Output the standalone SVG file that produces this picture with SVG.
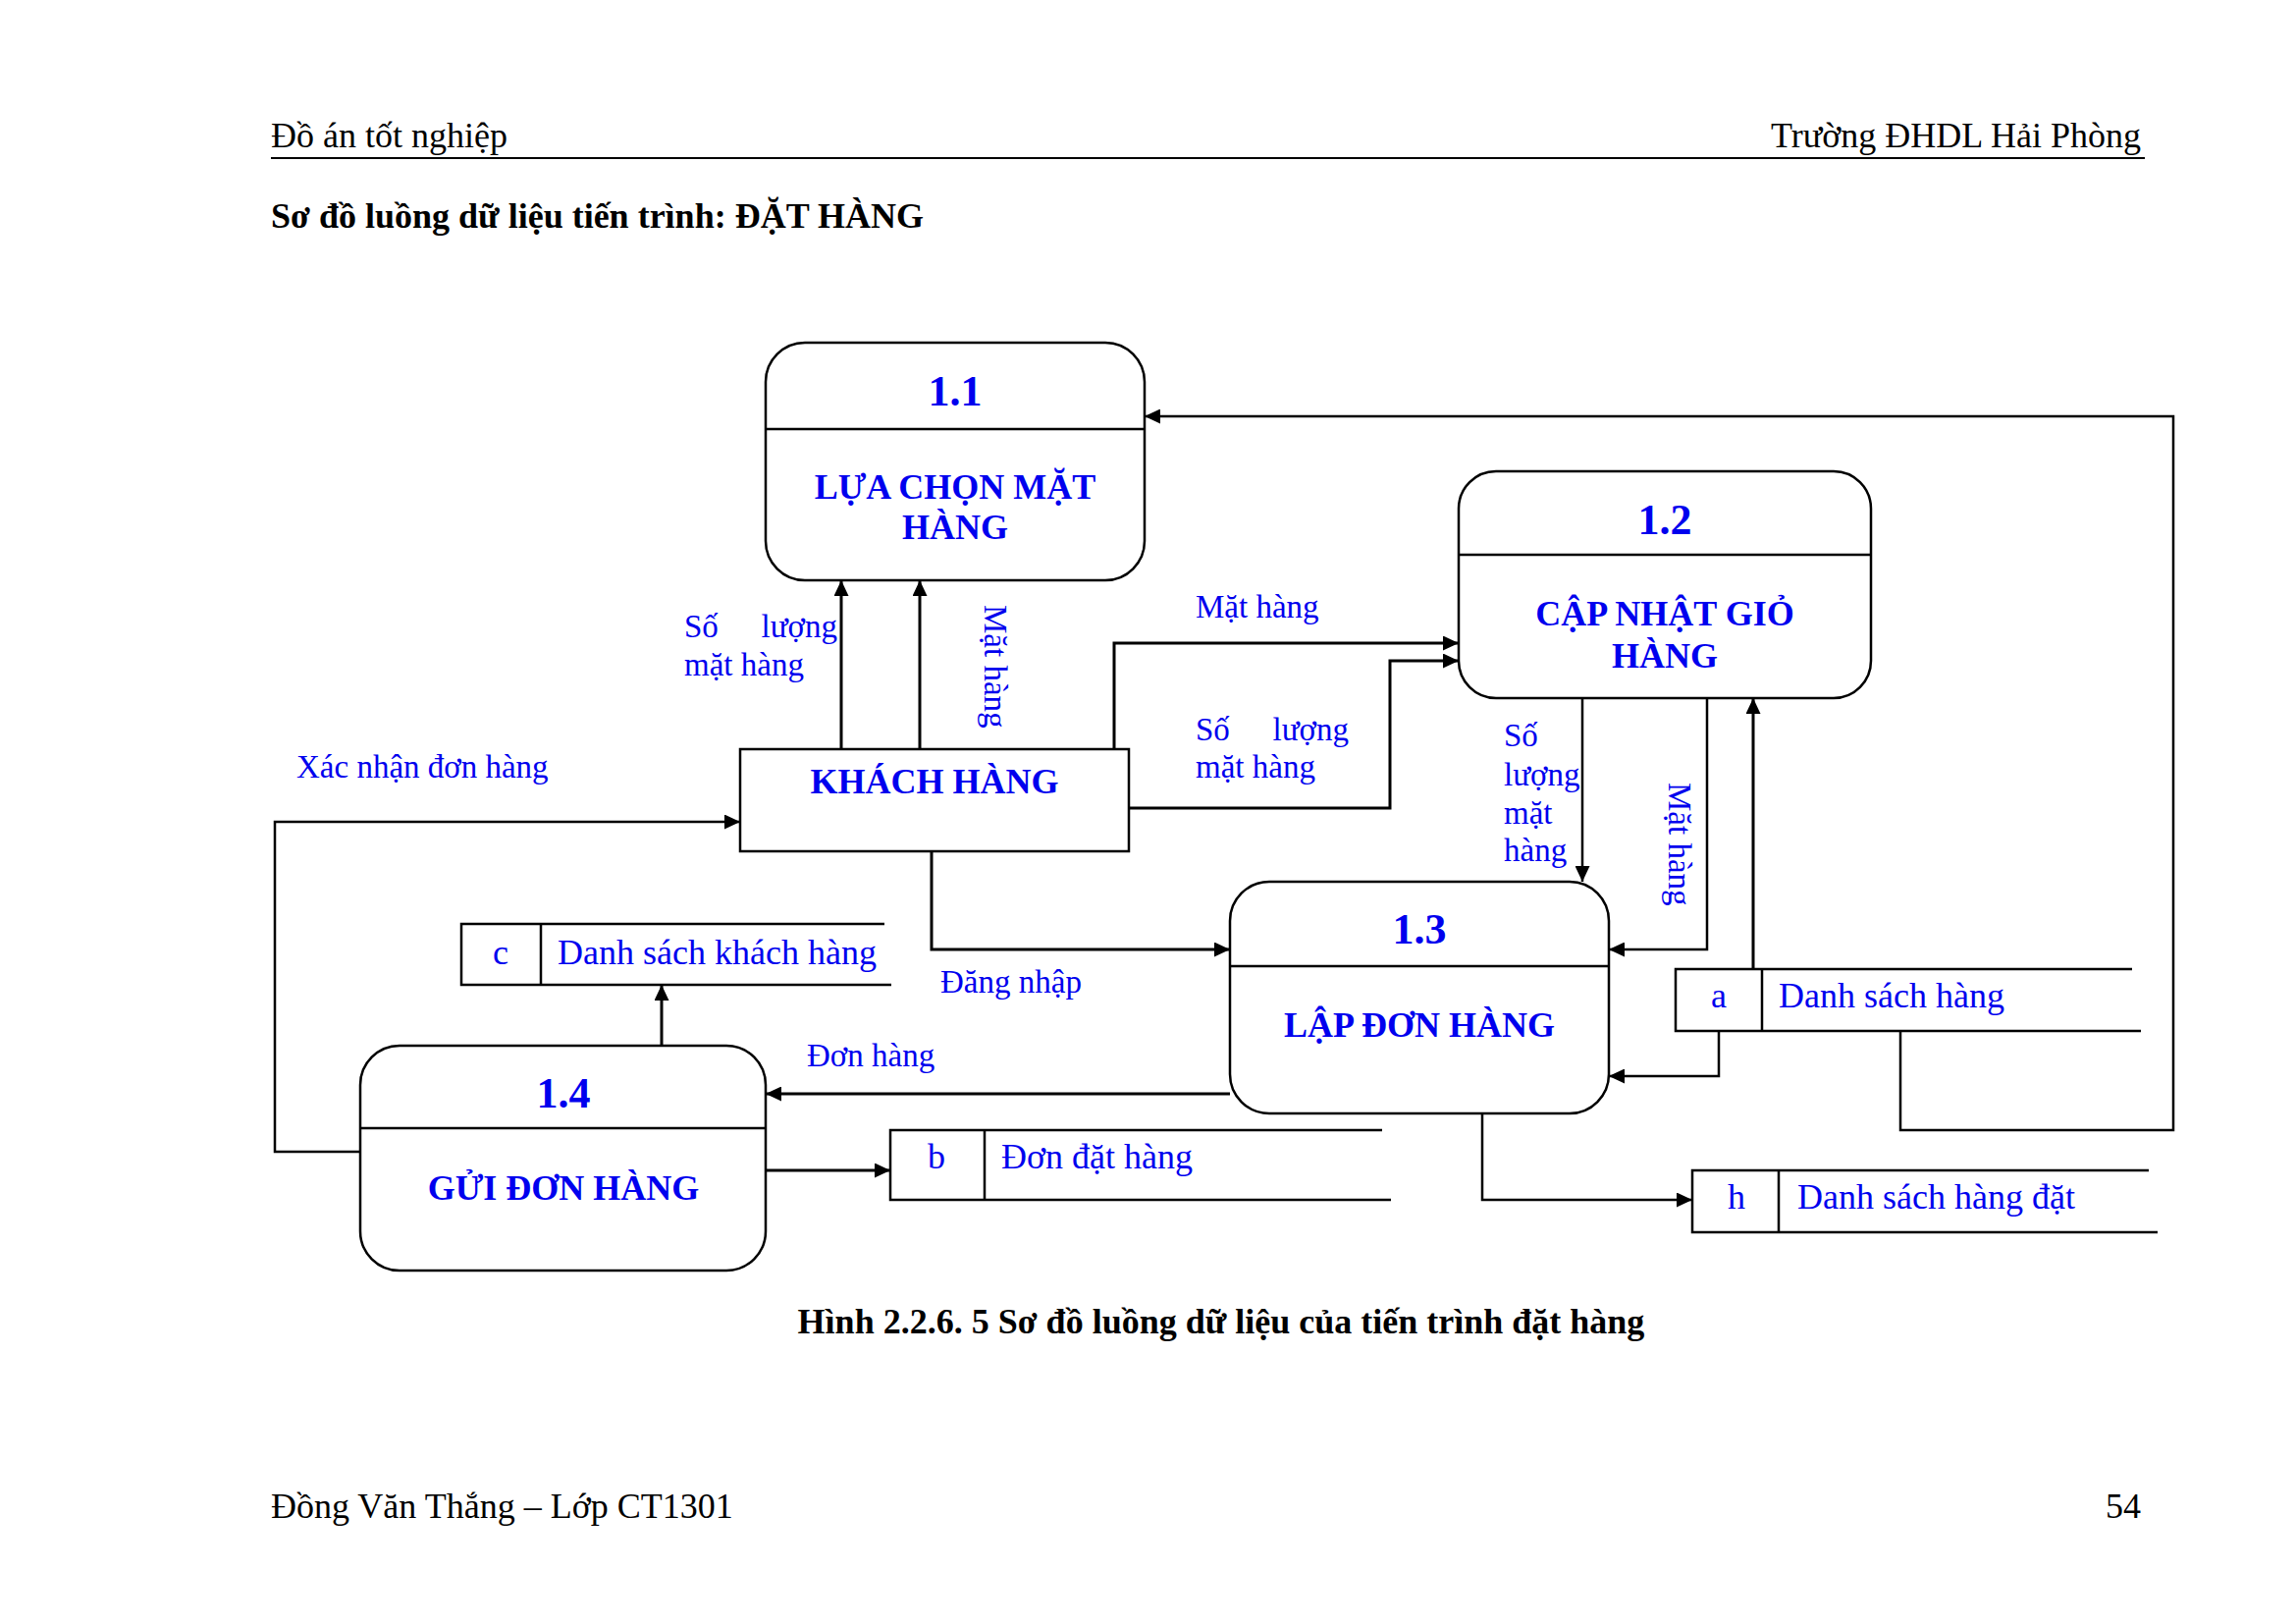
<svg xmlns="http://www.w3.org/2000/svg" width="2339" height="1654" viewBox="0 0 2339 1654">
<style>
text{font-family:"Liberation Serif","Times New Roman",serif}
.hd{font-size:36px;fill:#000}
.ttl{font-size:36px;font-weight:bold;fill:#000}
.num{font-size:44px;font-weight:bold;fill:#0000ee;text-anchor:middle}
.nl{font-size:36px;font-weight:bold;fill:#0000ee;text-anchor:middle}
.lb{font-size:33px;fill:#0000ee}
.st{font-size:36px;fill:#0000ee}
.box{fill:#fff;stroke:#000;stroke-width:2.5}
.ln{fill:none;stroke:#000;stroke-width:2.5}
.cn{fill:none;stroke:#000;stroke-width:3;marker-end:url(#ah)}
</style>
<defs>
<marker id="ah" viewBox="0 0 16 15" refX="16" refY="7.5" markerWidth="16" markerHeight="15" orient="auto" markerUnits="userSpaceOnUse"><path d="M0,0 L16,7.5 L0,15 z" fill="#000"/></marker>
</defs>
<rect width="2339" height="1654" fill="#fff"/>
<g id="header">
<text class="hd" x="276" y="150">Đồ án tốt nghiệp</text>
<text class="hd" x="2181" y="150" text-anchor="end">Trường ĐHDL Hải Phòng</text>
<line x1="276" y1="161" x2="2185" y2="161" stroke="#000" stroke-width="2"/>
<text class="ttl" x="276" y="232">Sơ đồ luồng dữ liệu tiến trình: ĐẶT HÀNG</text>
</g>
<g id="connectors">
<path class="cn" d="M857,763 V591"/>
<path class="cn" d="M937,763 V591"/>
<path class="cn" d="M1135,763 V655 H1486"/>
<path class="cn" d="M1150,823 H1416 V673 H1486"/>
<path class="cn" d="M949,867 V967 H1253"/>
<path class="cn" d="M1612,711 V898" style="stroke-width:2.5"/>
<path class="cn" d="M1739,711 V967 H1639" style="stroke-width:2.5"/>
<path class="cn" d="M1786,987 V711"/>
<path class="cn" d="M1751,1050 V1096 H1639" style="stroke-width:2.5"/>
<path class="cn" d="M1936,1050 V1151 H2214 V424 H1166" style="stroke-width:2.5"/>
<path class="cn" d="M1510,1134 V1222 H1724" style="stroke-width:2.5"/>
<path class="cn" d="M1253,1114 H780"/>
<path class="cn" d="M674,1065 V1003"/>
<path class="cn" d="M780,1192 H907"/>
<path class="cn" d="M367,1173 H280 V837 H754" style="stroke-width:2.5"/>
</g>
<g id="labels">
<text class="lb" x="697" y="649">Số</text>
<text class="lb" x="853" y="649" text-anchor="end">lượng</text>
<text class="lb" x="697" y="688">mặt hàng</text>
<text class="lb" transform="translate(1003,616) rotate(90)">Mặt hàng</text>
<text class="lb" x="1218" y="629">Mặt hàng</text>
<text class="lb" x="1218" y="754">Số</text>
<text class="lb" x="1374" y="754" text-anchor="end">lượng</text>
<text class="lb" x="1218" y="792">mặt hàng</text>
<text class="lb" x="1532" y="760">Số</text>
<text class="lb" x="1532" y="800">lượng</text>
<text class="lb" x="1532" y="839">mặt</text>
<text class="lb" x="1532" y="877">hàng</text>
<text class="lb" transform="translate(1700,797) rotate(90)">Mặt hàng</text>
<text class="lb" x="958" y="1011">Đăng nhập</text>
<text class="lb" x="822" y="1086">Đơn hàng</text>
<text class="lb" x="302" y="792">Xác nhận đơn hàng</text>
</g>
<g id="p11">
<rect class="box" x="780" y="349" width="386" height="242" rx="40"/>
<line class="ln" x1="780" y1="437" x2="1166" y2="437"/>
<text class="num" x="973" y="413">1.1</text>
<text class="nl" x="973" y="508">LỰA CHỌN MẶT</text>
<text class="nl" x="973" y="549">HÀNG</text>
</g>
<g id="p12">
<rect class="box" x="1486" y="480" width="420" height="231" rx="38"/>
<line class="ln" x1="1486" y1="565" x2="1906" y2="565"/>
<text class="num" x="1696" y="544">1.2</text>
<text class="nl" x="1696" y="637">CẬP NHẬT GIỎ</text>
<text class="nl" x="1696" y="680">HÀNG</text>
</g>
<g id="p13">
<rect class="box" x="1253" y="898" width="386" height="236" rx="40"/>
<line class="ln" x1="1253" y1="984" x2="1639" y2="984"/>
<text class="num" x="1446" y="961">1.3</text>
<text class="nl" x="1446" y="1056">LẬP ĐƠN HÀNG</text>
</g>
<g id="p14">
<rect class="box" x="367" y="1065" width="413" height="229" rx="40"/>
<line class="ln" x1="367" y1="1149" x2="780" y2="1149"/>
<text class="num" x="574" y="1128">1.4</text>
<text class="nl" x="574" y="1222">GỬI ĐƠN HÀNG</text>
</g>
<g id="khachhang">
<rect class="box" x="754" y="763" width="396" height="104"/>
<text class="nl" x="952" y="808">KHÁCH HÀNG</text>
</g>
<g id="store-a">
<path class="ln" d="M2172,987 H1707 V1050 H2181 M1795,987 V1050"/>
<text class="st" x="1751" y="1026" text-anchor="middle">a</text>
<text class="st" x="1812" y="1026">Danh sách hàng</text>
</g>
<g id="store-b">
<path class="ln" d="M1408,1151 H907 V1222 H1417 M1003,1151 V1222"/>
<text class="st" x="954" y="1190" text-anchor="middle">b</text>
<text class="st" x="1020" y="1190">Đơn đặt hàng</text>
</g>
<g id="store-c">
<path class="ln" d="M901,941 H470 V1003 H908 M551,941 V1003"/>
<text class="st" x="510" y="982" text-anchor="middle">c</text>
<text class="st" x="568" y="982">Danh sách khách hàng</text>
</g>
<g id="store-h">
<path class="ln" d="M2189,1192 H1724 V1255 H2198 M1812,1192 V1255"/>
<text class="st" x="1769" y="1231" text-anchor="middle">h</text>
<text class="st" x="1831" y="1231">Danh sách hàng đặt</text>
</g>
<g id="footer">
<text class="ttl" x="1244" y="1358" text-anchor="middle">Hình 2.2.6. 5 Sơ đồ luồng dữ liệu của tiến trình đặt hàng</text>
<text class="hd" x="276" y="1546">Đồng Văn Thắng – Lớp CT1301</text>
<text class="hd" x="2181" y="1546" text-anchor="end">54</text>
</g>
</svg>
